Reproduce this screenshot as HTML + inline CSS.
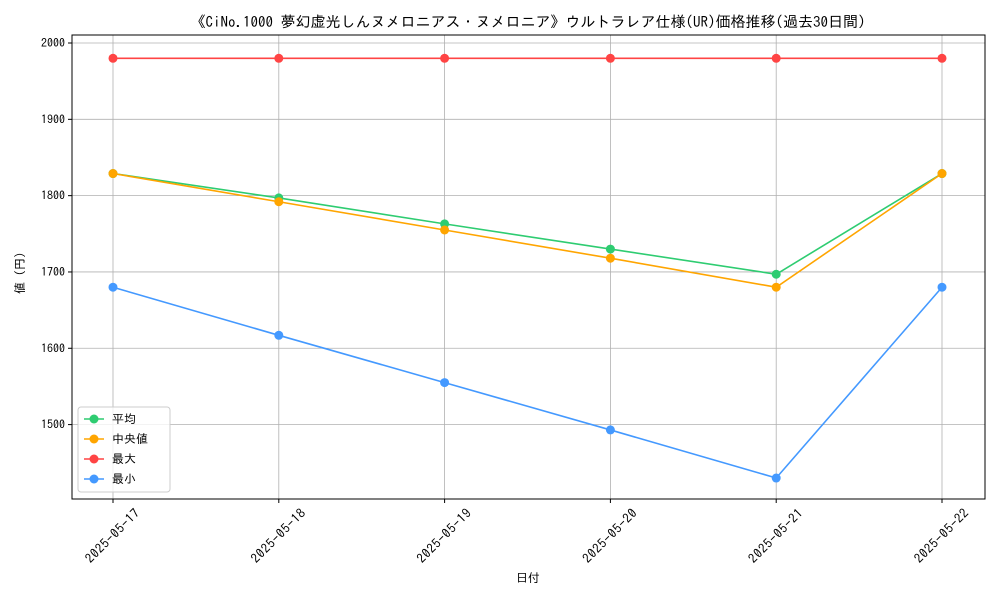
<!DOCTYPE html>
<html><head><meta charset="utf-8"><style>
body{margin:0;background:#fff;}
svg text{font-family:"IPAGothic","Liberation Sans","Noto Sans CJK JP",sans-serif;fill:#000;}
</style></head><body>
<svg id="chart" width="1000" height="600" xmlns="http://www.w3.org/2000/svg"></svg>
<script>
const categories=["2025-05-17","2025-05-18","2025-05-19","2025-05-20","2025-05-21","2025-05-22"];
const avgValues=[1829,1797,1763,1730,1697,1829];
const medianValues=[1829,1792,1755,1718,1680,1829];
const maxValues=[1980,1980,1980,1980,1980,1980];
const minValues=[1680,1617,1555,1493,1430,1680];
const yTicks=[1500,1600,1700,1800,1900,2000];
const seriesNames=["平均","中央値","最大","最小"];
const seriesColors=["#2ecc71","#ffa500","#ff4444","#4499ff"];

const svg=document.getElementById('chart');
const NS="http://www.w3.org/2000/svg";
const L=72,R=985,T=35,B=499;
const yMin=1402.5,yMax=2010.5;
const x0=113,x1=942;
function xs(i){return x0+(x1-x0)*i/(categories.length-1);}
function ys(v){return B-(v-yMin)/(yMax-yMin)*(B-T);}
function mk(tag,attrs,parent){const e=document.createElementNS(NS,tag);for(const k in attrs)e.setAttribute(k,attrs[k]);(parent||svg).appendChild(e);return e;}

const grid=mk('g',{});


categories.forEach((c,i)=>{mk('line',{x1:xs(i),x2:xs(i),y1:T,y2:B,stroke:'#b0b0b0','stroke-width':0.8},grid);});
yTicks.forEach(v=>{mk('line',{x1:L,x2:R,y1:ys(v),y2:ys(v),stroke:'#b0b0b0','stroke-width':0.8},grid);});

const axes=mk('rect',{x:L,y:T,width:R-L,height:B-T,fill:'none',stroke:'#000','stroke-width':1});



categories.forEach((c,i)=>{
  mk('line',{x1:xs(i),x2:xs(i),y1:B,y2:B+4,stroke:'#000'});
  const cx=xs(i), cy=B+37;
  const t=mk('text',{x:cx,y:cy+4,'font-size':13,'letter-spacing':0.6,'text-anchor':'middle',transform:`rotate(-45 ${cx} ${cy})`});
  t.textContent=c;
  
  
});
yTicks.forEach(v=>{
  mk('line',{x1:L-4,x2:L,y1:ys(v),y2:ys(v),stroke:'#000'});
  const t=mk('text',{x:L-7,y:ys(v)+4,'font-size':12,'text-anchor':'end'});
  t.textContent=v;
  
  
});

const allSeries=[avgValues,medianValues,maxValues,minValues];
allSeries.forEach((vals,s)=>{
  const g=mk('g',{});
  
  
  mk('polyline',{points:vals.map((v,i)=>xs(i)+','+ys(v)).join(' '),fill:'none',stroke:seriesColors[s],'stroke-width':1.6},g);
  vals.forEach((v,i)=>{
    const p=mk('circle',{cx:xs(i),cy:ys(v),r:4.5,fill:seriesColors[s]},g);
    
    
  });
});

const title=mk('text',{x:528,y:27,'font-size':15,'text-anchor':'middle'});
title.textContent="《CiNo.1000 夢幻虚光しんヌメロニアス・ヌメロニア》ウルトラレア仕様(UR)価格推移(過去30日間)";


const xl=mk('text',{x:528,y:582,'font-size':12,'text-anchor':'middle'});
xl.textContent="日付";


const yl=mk('text',{x:24,y:270,'font-size':12,'text-anchor':'middle',transform:'rotate(-90 24 270)'});
yl.textContent="値（円）";



const lg=mk('g',{});


mk('rect',{x:78,y:407,width:92,height:85,rx:3,fill:'#fff','fill-opacity':0.8,stroke:'#ccc'},lg);
seriesNames.forEach((n,s)=>{
  const y=419+s*20;
  const e=mk('g',{},lg);
  
  
  mk('line',{x1:84,x2:104,y1:y,y2:y,stroke:seriesColors[s],'stroke-width':1.6},e);
  mk('circle',{cx:94,cy:y,r:4.5,fill:seriesColors[s]},e);
  const t=mk('text',{x:112,y:y+4,'font-size':12},e);
  t.textContent=n;
});
</script>
</body></html>
